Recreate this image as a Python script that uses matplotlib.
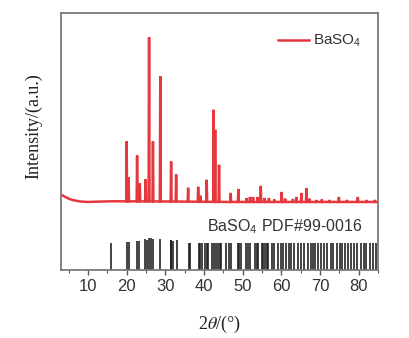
import numpy as np
import matplotlib
matplotlib.use("Agg")
import matplotlib.pyplot as plt

plt.rcParams["mathtext.fontset"] = "stix"

# Measured XRD pattern: reflection positions (2theta, deg) and relative intensities
peak_theta = [20.0, 20.5, 22.7, 23.4, 24.9, 25.8, 26.8, 28.7, 31.5, 32.8,
              35.9, 38.5, 39.1, 40.7, 42.5, 42.9, 43.9, 46.9, 48.9, 51.0,
              51.9, 52.7, 53.9, 54.7, 55.7, 56.8, 58.2, 60.1, 61.0, 63.0,
              63.9, 65.2, 66.5, 67.3, 69.1, 70.5, 72.5, 74.9, 77.0, 79.8,
              82.0, 84.2]
peak_int = [36.6, 14.6, 28.0, 11.0, 13.5, 100.0, 36.6, 76.2, 24.4, 16.5,
            8.5, 9.1, 3.7, 13.4, 56.1, 43.9, 22.6, 5.5, 7.9, 2.4,
            3.0, 3.0, 3.0, 9.8, 2.4, 2.4, 1.5, 6.1, 2.0, 1.8,
            3.0, 5.5, 8.5, 2.0, 1.2, 1.5, 1.2, 3.0, 1.2, 3.0,
            1.2, 1.2]

# Background of the measured pattern
bg_theta = [3.0, 4.0, 5.0, 6.0, 7.0, 8.0, 9.0, 10.0, 16.0, 30.0, 45.0, 60.0, 85.0]
bg_int = [4.5, 3.2, 2.0, 1.2, 0.7, 0.3, 0.1, 0.0, 0.4, 0.3, 0.0, 0.0, 0.0]

# Reference card BaSO4 PDF#99-0016: line positions
ref_theta = [15.9, 20.0, 20.5, 22.7, 23.3, 24.7, 25.2, 25.9, 26.3, 26.9,
             28.7, 31.4, 31.6, 31.9, 32.9, 36.1, 36.5, 38.6, 38.9, 39.4,
             40.2, 40.7, 41.1, 42.0, 42.6, 43.0, 43.7, 44.1, 44.5, 45.8,
             46.4, 46.9, 48.7, 49.1, 49.5, 50.8, 51.4, 51.9, 53.2, 53.6,
             54.0, 54.9, 55.3, 55.7, 56.2, 56.6, 57.5, 58.1, 59.2, 59.9,
             60.5, 61.1, 61.9, 62.6, 63.3, 64.3, 65.2, 65.9, 66.8, 67.6,
             68.2, 68.8, 69.5, 70.4, 71.1, 71.9, 72.8, 73.4, 74.3, 75.1,
             75.7, 76.6, 77.3, 78.1, 78.8, 79.7, 80.5, 81.4, 82.0, 82.9,
             83.7, 84.6]
ref_top = [-25.0, -24.5, -24.5, -23.5, -24.0, -22.5, -23.0, -22.0, -22.0, -22.5,
           -22.5, -23.0, -23.0, -23.5, -23.0]
ref_top = ref_top + [-25.0] * (len(ref_theta) - len(ref_top))

x_ticks = [10, 20, 30, 40, 50, 60, 70, 80]

# Build the measured trace as narrow spikes over the background
half_w = 0.12
pts = {}
for t, v in zip(bg_theta, bg_int):
    pts[t] = v
def bg_at(t):
    return float(np.interp(t, bg_theta, bg_int))
for t, h in zip(peak_theta, peak_int):
    pts[round(t - half_w, 3)] = bg_at(t - half_w)
    pts[round(t, 3)] = bg_at(t) + h
    pts[round(t + half_w, 3)] = bg_at(t + half_w)
xs = sorted(pts)
ys = [pts[x] for x in xs]

fig = plt.figure(figsize=(4.09, 3.38), dpi=100)
ax = fig.add_axes([0.149, 0.201, 0.775, 0.761])

red = "#E5383E"
ax.plot(xs, ys, color=red, lw=1.8, label=r"BaSO$_\mathregular{4}$",
        solid_joinstyle="miter")

y_bottom = -41.5
ax.vlines(ref_theta, y_bottom, ref_top, colors="#1a1a1a", lw=1.15)

ax.set_xlim(3, 85)
ax.set_ylim(y_bottom, 115.2)

ax.set_xticks(x_ticks)
ax.set_xticks([5, 15, 25, 35, 45, 55, 65, 75, 85], minor=True)
ax.tick_params(axis="x", which="major", direction="out", length=3.5, width=1.0,
               color="#555555", labelsize=12, pad=3)
ax.tick_params(axis="x", which="minor", direction="out", length=2.0, width=0.8,
               color="#555555")
for lab in ax.get_xticklabels():
    lab.set_fontfamily("Liberation Sans")
    lab.set_color("#333333")
ax.set_yticks([])

for sp in ax.spines.values():
    sp.set_color("#7a7a7a")
    sp.set_linewidth(1.3)

ax.set_ylabel("Intensity/(a.u.)", family="Liberation Serif", fontsize=13,
              color="#222222")
ax.yaxis.set_label_coords(-0.06, 0.56)
ax.set_xlabel(r"2$\it{\theta}$/(°)", family="Liberation Serif", fontsize=13,
              color="#222222", labelpad=14)

leg = ax.legend(loc="upper right", bbox_to_anchor=(0.99, 0.975), frameon=False,
                handlelength=2.0, handletextpad=0.25,
                prop={"family": "Liberation Sans", "size": 11})
for t in leg.get_texts():
    t.set_color("#333333")

ax.text(0.95, 0.167, r"BaSO$_\mathregular{4}$ PDF#99-0016", transform=ax.transAxes,
        ha="right", va="center", family="Liberation Sans", fontsize=11.5,
        color="#333333")

fig.savefig("out.png", dpi=100)
